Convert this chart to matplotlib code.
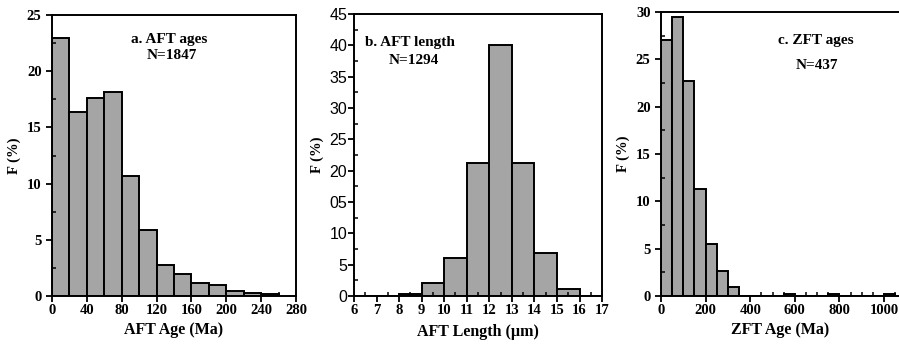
import numpy as np
from matplotlib import pyplot as plt
from matplotlib.ticker import MultipleLocator, FixedLocator, FixedFormatter

plt.rcParams["font.family"] = ["Liberation Serif", "DejaVu Serif"]
plt.rcParams["font.weight"] = "bold"

# a. AFT ages, 20 Ma bins
aft_age_edges = [0, 20, 40, 60, 80, 100, 120, 140, 160, 180, 200, 220, 240, 260]
aft_age_freq = [23.0, 16.4, 17.6, 18.2, 10.7, 5.9, 2.8, 2.0, 1.2, 1.0, 0.45, 0.3, 0.18]

# b. AFT length, 1 um bins
aft_len_edges = [6, 7, 8, 9, 10, 11, 12, 13, 14, 15, 16, 17]
aft_len_freq = [0, 0, 0.3, 2.0, 6.0, 21.2, 40.1, 21.2, 6.9, 1.1, 0]
aft_len_yticks = [0, 5, 10, 15, 20, 25, 30, 35, 40, 45]
aft_len_ylabels = ["0", "5", "10", "05", "20", "25", "30", "35", "40", "45"]

# c. ZFT ages, 50 Ma bins
zft_age_edges = [0, 50, 100, 150, 200, 250, 300, 350, 550, 600, 750, 800, 1000, 1050]
zft_age_freq = [27.0, 29.5, 22.7, 11.3, 5.5, 2.6, 1.0, 0, 0.25, 0, 0.25, 0, 0.25]

fig = plt.figure(figsize=(8.99, 3.44), dpi=100)
ax_a = fig.add_axes([0.0578, 0.1395, 0.2714, 0.8165])
ax_b = fig.add_axes([0.3938, 0.1395, 0.2759, 0.8198])
ax_c = fig.add_axes([0.7353, 0.1395, 0.2647, 0.8256])

bar_kw = dict(color="#a5a5a5", edgecolor="black", linewidth=1.4, align="edge")


def draw_hist(ax, edges, freq):
    edges = np.array(edges)
    ax.bar(edges[:-1], freq, width=np.diff(edges), **bar_kw)


def style(ax):
    for s in ax.spines.values():
        s.set_linewidth(1.4)
    ax.tick_params(which="major", direction="out", length=4, width=1.3, labelsize=10.5)
    ax.tick_params(which="minor", direction="in", length=3, width=1.1)
    ax.tick_params(axis="x", pad=2)
    ax.set_ylabel("F (%)", fontsize=10.5, fontweight="bold", labelpad=4)


# panel a
draw_hist(ax_a, aft_age_edges, aft_age_freq)
ax_a.set_xlim(0, 280)
ax_a.set_ylim(0, 25)
ax_a.xaxis.set_major_locator(MultipleLocator(40))
ax_a.xaxis.set_minor_locator(MultipleLocator(20))
ax_a.yaxis.set_major_locator(MultipleLocator(5))
ax_a.yaxis.set_minor_locator(MultipleLocator(2.5))
style(ax_a)
ax_a.set_xlabel("AFT Age (Ma)", fontsize=11.5, fontweight="bold", labelpad=3)
ax_a.text(0.48, 0.915, "a. AFT ages", transform=ax_a.transAxes, ha="center", va="center", fontsize=11)
ax_a.text(0.49, 0.855, "N=1847", transform=ax_a.transAxes, ha="center", va="center", fontsize=11)

# panel b
draw_hist(ax_b, aft_len_edges, aft_len_freq)
ax_b.set_xlim(6, 17)
ax_b.set_ylim(0, 45)
ax_b.set_xticks(range(6, 18))
ax_b.xaxis.set_minor_locator(MultipleLocator(0.5))
ax_b.yaxis.set_minor_locator(MultipleLocator(2.5))
style(ax_b)
ax_b.yaxis.set_major_locator(FixedLocator(aft_len_yticks))
ax_b.yaxis.set_major_formatter(FixedFormatter(aft_len_ylabels))
for lbl in ax_b.get_yticklabels():
    lbl.set_fontfamily("Liberation Sans")
    lbl.set_fontweight("normal")
ax_b.tick_params(axis="y", labelsize=11.5, pad=1)
ax_b.set_xlabel("AFT Length (\u00b5m)", fontsize=11.5, fontweight="bold", labelpad=5)
ax_b.text(0.045, 0.9, "b. AFT length", transform=ax_b.transAxes, ha="left", va="center", fontsize=11)
ax_b.text(0.24, 0.835, "N=1294", transform=ax_b.transAxes, ha="center", va="center", fontsize=11)

# panel c
draw_hist(ax_c, zft_age_edges, zft_age_freq)
ax_c.set_xlim(0, 1067)
ax_c.set_ylim(0, 30)
ax_c.set_xticks([0, 200, 400, 600, 800, 1000])
ax_c.xaxis.set_minor_locator(MultipleLocator(50))
ax_c.yaxis.set_major_locator(MultipleLocator(5))
ax_c.yaxis.set_minor_locator(MultipleLocator(2.5))
style(ax_c)
ax_c.spines["right"].set_visible(False)
ax_c.set_xlabel("ZFT Age (Ma)", fontsize=11.5, fontweight="bold", labelpad=3)
ax_c.text(0.65, 0.9, "c. ZFT ages", transform=ax_c.transAxes, ha="center", va="center", fontsize=11)
ax_c.text(0.655, 0.81, "N=437", transform=ax_c.transAxes, ha="center", va="center", fontsize=11)

plt.savefig("out.png", dpi=100)
